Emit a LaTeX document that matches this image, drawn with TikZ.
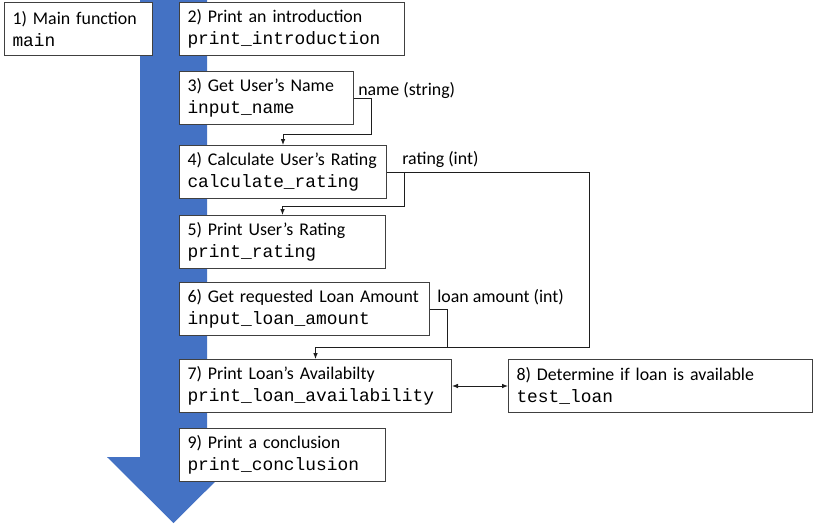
\documentclass[tikz,border=0pt]{standalone}
\usepackage{fontspec}
\setmainfont{Carlito}
\setmonofont{Liberation Mono}
\usetikzlibrary{arrows.meta,calc}

\newcommand{\funcname}[1]{{\ttfamily #1}}

\begin{document}
\begin{tikzpicture}[x=0.75pt,y=-0.75pt,
	fbox/.style={draw=boxgray, line width=0.75pt, fill=white, anchor=north west, minimum height=39.75pt,
		inner xsep=6pt, inner ysep=0pt, text width=#1, align=left, font=\fontsize{13.4}{16.5}\selectfont},
	flow/.style={draw=linegray, line width=0.75pt, -{Latex[length=4.5pt,width=3.5pt]}},
	lbl/.style={anchor=base west, inner sep=0pt, font=\fontsize{13.4}{16}\selectfont}]
	\definecolor{boxgray}{RGB}{64,64,64}
	\definecolor{linegray}{RGB}{30,30,30}
	\definecolor{arrowblue}{RGB}{68,114,196}
	\useasboundingbox (0,0) rectangle (813,525);

	% big arrow behind the steps
	\fill[arrowblue] (140,0) -- (207,0) -- (207,457) -- (240,457) -- (173.5,523) -- (107,457) -- (140,457) -- cycle;

	\node[fbox=99pt] (n1) at (4,2) {1) Main function\\\funcname{main}};
	\node[fbox=156.75pt] (n2) at (179,2) {2) Print an introduction\\\funcname{print\_introduction}};
	\node[fbox=118.5pt] (n3) at (179,71) {3) Get User's Name\\\funcname{input\_name}};
	\node[fbox=143.25pt] (n4) at (179,145) {4) Calculate User's Rating\\\funcname{calculate\_rating}};
	\node[fbox=142.5pt] (n5) at (179,215) {5) Print User's Rating\\\funcname{print\_rating}};
	\node[fbox=175.5pt] (n6) at (179,282) {6) Get requested Loan Amount\\\funcname{input\_loan\_amount}};
	\node[fbox=192pt] (n7) at (179,359) {7) Print Loan's Availabilty\\\funcname{print\_loan\_availability}};
	\node[fbox=216pt] (n8) at (508,359) {8) Determine if loan is available\\\funcname{test\_loan}};
	\node[fbox=142.5pt] (n9) at (179,428) {9) Print a conclusion\\\funcname{print\_conclusion}};

	% data passed between steps
	\coordinate (nameturn) at (371,134);
	\coordinate (ratingturn) at (404,206);
	\coordinate (ratingfar) at (589,347);
	\coordinate (loanturn) at (447,347);

	\draw[flow] (n3.east) -| (nameturn) -| (n4.north);
	\draw[flow] (n4.east) -| (ratingturn) -| (n5.north);
	\draw[flow] (n4.east) -| (ratingfar) -| (n7.north);
	\draw[draw=linegray, line width=0.75pt] (n6.east) -| (loanturn);
	\draw[flow, {Latex[length=4.5pt,width=3.5pt]}-{Latex[length=4.5pt,width=3.5pt]}] (n7.east) -- (n8.west);

	\node[lbl] (lname) at (358,95) {name (string)};
	\node[lbl] (lrating) at (402,164) {rating (int)};
	\node[lbl] (lloan) at (437,302) {loan amount (int)};
\end{tikzpicture}
\end{document}
